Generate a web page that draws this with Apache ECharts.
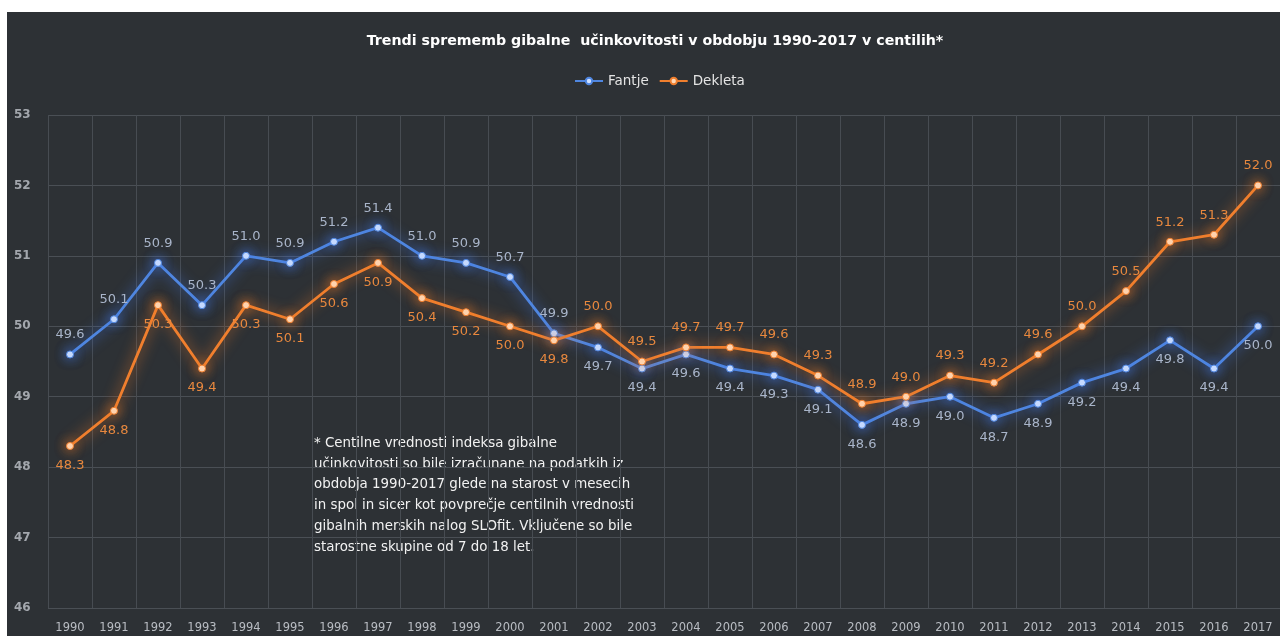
<!DOCTYPE html>
<html>
<head>
<meta charset="utf-8">
<title>Trendi sprememb gibalne učinkovitosti</title>
<script src="https://cdn.jsdelivr.net/npm/echarts@6/dist/echarts.min.js"></script>
<style>
  html, body { margin: 0; padding: 0; background: #ffffff; width: 1280px; height: 636px; overflow: hidden; }
  #chart { position: absolute; left: 7px; top: 12px; width: 1273px; height: 624px; background: #2d3135; }
</style>
</head>
<body>
<div id="chart"></div>
<script>
// Leta (kategorije na osi x)
const years = ['1990','1991','1992','1993','1994','1995','1996','1997','1998','1999',
  '2000','2001','2002','2003','2004','2005','2006','2007','2008','2009',
  '2010','2011','2012','2013','2014','2015','2016','2017'];

// Povprečne centilne vrednosti
const fantje = [49.6, 50.1, 50.9, 50.3, 51.0, 50.9, 51.2, 51.4, 51.0, 50.9,
  50.7, 49.9, 49.7, 49.4, 49.6, 49.4, 49.3, 49.1, 48.6, 48.9,
  49.0, 48.7, 48.9, 49.2, 49.4, 49.8, 49.4, 50.0];
const dekleta = [48.3, 48.8, 50.3, 49.4, 50.3, 50.1, 50.6, 50.9, 50.4, 50.2,
  50.0, 49.8, 50.0, 49.5, 49.7, 49.7, 49.6, 49.3, 48.9, 49.0,
  49.3, 49.2, 49.6, 50.0, 50.5, 51.2, 51.3, 52.0];

// Obseg osi y
const yMin = 46, yMax = 53, yStep = 1;

const titleText = 'Trendi sprememb gibalne  učinkovitosti v obdobju 1990-2017 v centilih*';
const noteLines = [
  '* Centilne vrednosti indeksa gibalne',
  'učinkovitosti so bile izračunane na podatkih iz',
  'obdobja 1990-2017 glede na starost v mesecih',
  'in spol in sicer kot povprečje centilnih vrednosti',
  'gibalnih merskih nalog SLOfit. Vključene so bile',
  'starostne skupine od 7 do 18 let.'
];

const FONT = '"DejaVu Sans", sans-serif';

// Oznaka je nad točko pri višji krivulji in pod njo pri nižji
function withLabels(values, other) {
  return values.map((v, i) => ({
    value: v,
    label: { position: v >= other[i] ? 'top' : 'bottom' }
  }));
}

function lineSeries(name, values, other, color, glow, dotFill, labelColor) {
  return {
    name: name,
    type: 'line',
    data: withLabels(values, other),
    symbol: 'circle',
    symbolSize: 7,
    lineStyle: { color: color, width: 2.8, shadowColor: glow, shadowBlur: 14 },
    itemStyle: { color: dotFill, borderColor: color, borderWidth: 1, shadowColor: glow, shadowBlur: 12 },
    label: {
      show: true,
      distance: 9,
      color: labelColor,
      fontFamily: FONT,
      fontSize: 13,
      formatter: p => p.value.toFixed(1)
    },
    emphasis: { disabled: true },
    animation: false
  };
}

const chart = echarts.init(document.getElementById('chart'));
chart.setOption({
  backgroundColor: '#2d3135',
  title: {
    text: titleText,
    left: 643,
    top: 17,
    textAlign: 'center',
    textStyle: { color: '#ffffff', fontFamily: FONT, fontWeight: 'bold', fontSize: 14.2 }
  },
  legend: {
    top: 57,
    left: 562,
    itemWidth: 28,
    itemHeight: 8,
    itemGap: 10,
    textStyle: { color: '#e4e4e4', fontFamily: FONT, fontSize: 13.5 },
    data: ['Fantje', 'Dekleta']
  },
  grid: { left: 41, top: 103, width: 1236, bottom: 28 },
  xAxis: {
    type: 'category',
    data: years,
    boundaryGap: true,
    axisLine: { show: false },
    axisTick: { show: false },
    axisLabel: { color: '#b9bdc3', fontFamily: FONT, fontSize: 11.5, margin: 14, interval: 0 },
    splitLine: { show: true, interval: 0, lineStyle: { color: '#474c52', width: 1 } }
  },
  yAxis: {
    type: 'value',
    min: yMin,
    max: yMax,
    interval: yStep,
    axisLine: { show: false },
    axisTick: { show: false },
    axisLabel: { color: '#a3a7ad', fontFamily: FONT, fontSize: 12, fontWeight: 'bold', align: 'left', margin: 34 },
    splitLine: { lineStyle: { color: '#4a4f55', width: 1 } }
  },
  graphic: [{
    type: 'text',
    left: 307,
    top: 421,
    style: {
      text: noteLines.join('\n'),
      fill: '#f2f2f2',
      font: '13.4px ' + FONT,
      lineHeight: 20.8
    }
  }],
  series: [
    lineSeries('Fantje', fantje, dekleta, '#4f86e0', 'rgba(70,130,255,0.9)', '#cfe0ff', '#a9b5ca'),
    lineSeries('Dekleta', dekleta, fantje, '#f07f2e', 'rgba(255,130,40,0.9)', '#ffd9b8', '#e8883e')
  ]
});
</script>
</body>
</html>
